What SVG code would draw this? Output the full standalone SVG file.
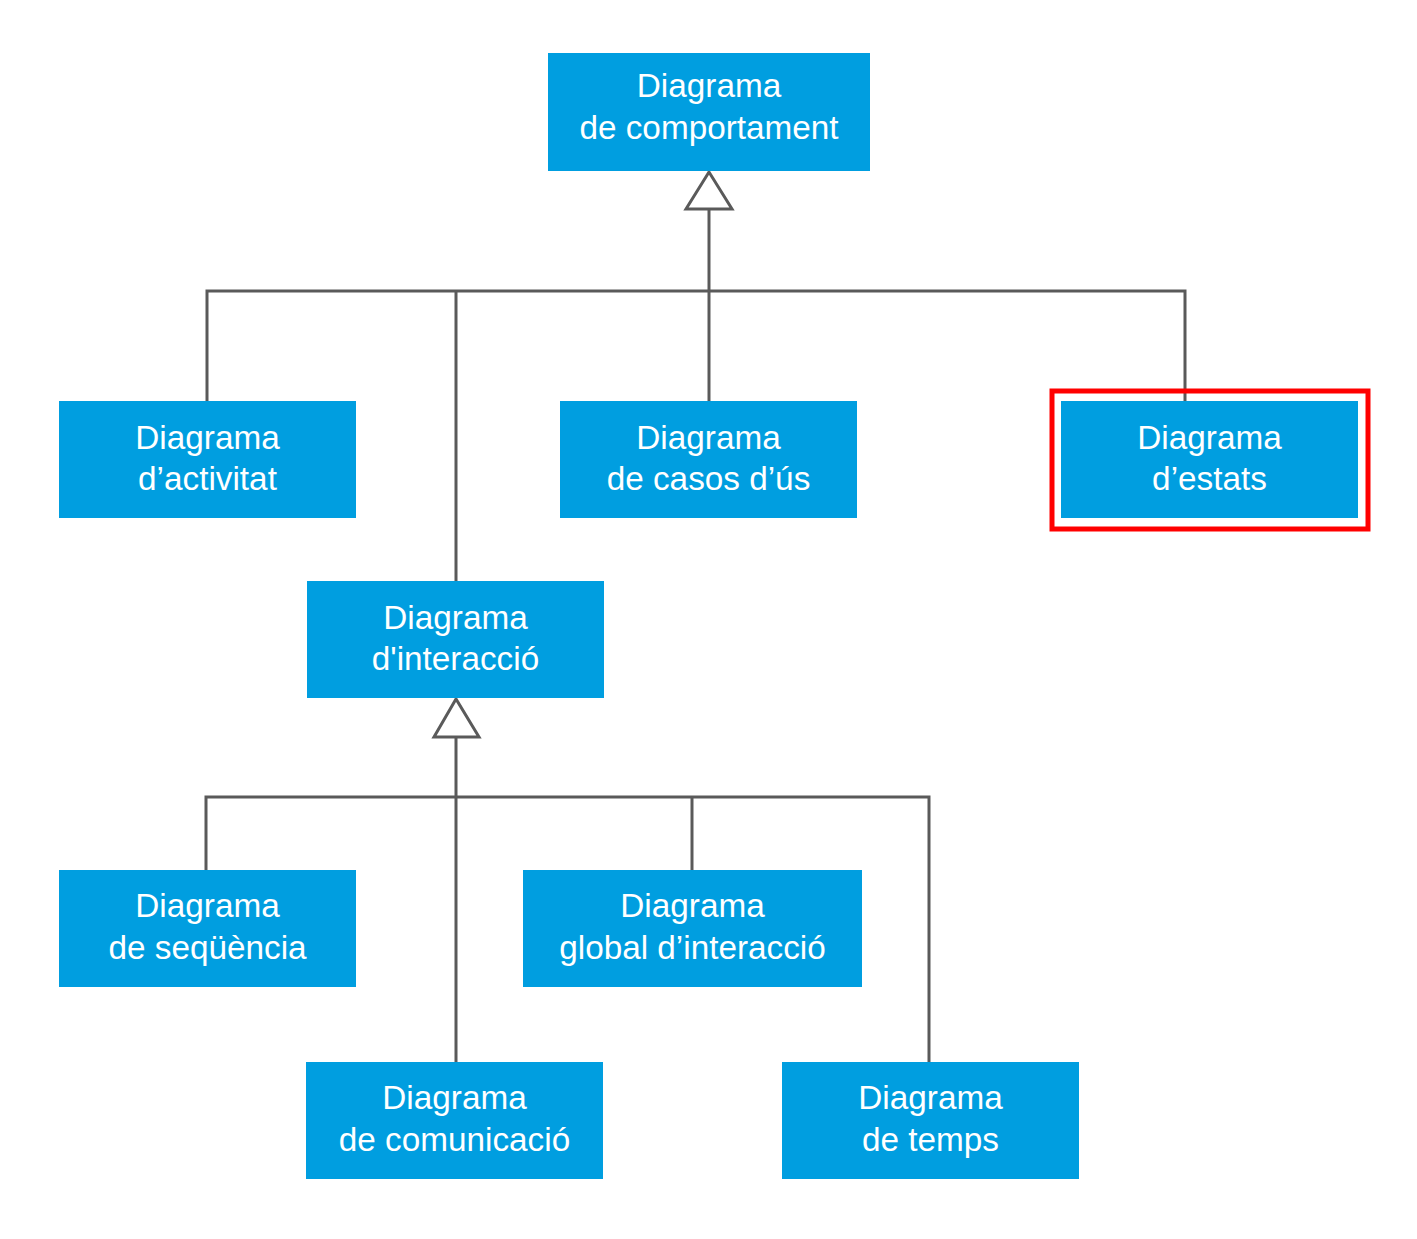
<svg xmlns="http://www.w3.org/2000/svg" width="1417" height="1239" viewBox="0 0 1417 1239">
<style>
.box{fill:#009EE0}
.t{font-family:"Liberation Sans",Arial,sans-serif;font-size:33.3px;fill:#fff;text-anchor:middle}
.c{fill:none;stroke:#5a5a5a;stroke-width:3}
.tri{fill:#fff;stroke:#5a5a5a;stroke-width:3}
</style>
<rect width="1417" height="1239" fill="#fff"/>
<g id="connectors">
<polyline class="c" points="709,209 709,291"/>
<polyline class="c" points="207,401 207,291 1185,291 1185,401"/>
<polyline class="c" points="456,291 456,581"/>
<polyline class="c" points="709,291 709,401"/>
<polygon class="tri" points="709,172 686,209 732,209"/>
<polyline class="c" points="456,737 456,1062"/>
<polyline class="c" points="206,870 206,797 929,797 929,1062"/>
<polyline class="c" points="692,797 692,870"/>
<polygon class="tri" points="456,699 434,737 479,737"/>
</g>
<g id="comportament"><rect class="box" x="548" y="53" width="322" height="118"/><text class="t" x="709" y="97">Diagrama</text><text class="t" x="709" y="139">de comportament</text></g>
<g id="activitat"><rect class="box" x="59" y="401" width="297" height="117"/><text class="t" x="207.5" y="449">Diagrama</text><text class="t" x="207.5" y="490">d’activitat</text></g>
<g id="casos"><rect class="box" x="560" y="401" width="297" height="117"/><text class="t" x="708.5" y="449">Diagrama</text><text class="t" x="708.5" y="490">de casos d’ús</text></g>
<g id="estats"><rect x="1052" y="391" width="316" height="138" fill="none" stroke="#f00" stroke-width="5"/><rect class="box" x="1061" y="401" width="297" height="117"/><text class="t" x="1209.5" y="449">Diagrama</text><text class="t" x="1209.5" y="490">d’estats</text></g>
<g id="interaccio"><rect class="box" x="307" y="581" width="297" height="117"/><text class="t" x="455.5" y="629">Diagrama</text><text class="t" x="455.5" y="670">d'interacció</text></g>
<g id="sequencia"><rect class="box" x="59" y="870" width="297" height="117"/><text class="t" x="207.5" y="917">Diagrama</text><text class="t" x="207.5" y="959">de seqüència</text></g>
<g id="global"><rect class="box" x="523" y="870" width="339" height="117"/><text class="t" x="692.5" y="917">Diagrama</text><text class="t" x="692.5" y="959">global d’interacció</text></g>
<g id="comunicacio"><rect class="box" x="306" y="1062" width="297" height="117"/><text class="t" x="454.5" y="1109">Diagrama</text><text class="t" x="454.5" y="1151">de comunicació</text></g>
<g id="temps"><rect class="box" x="782" y="1062" width="297" height="117"/><text class="t" x="930.5" y="1109">Diagrama</text><text class="t" x="930.5" y="1151">de temps</text></g>
</svg>
